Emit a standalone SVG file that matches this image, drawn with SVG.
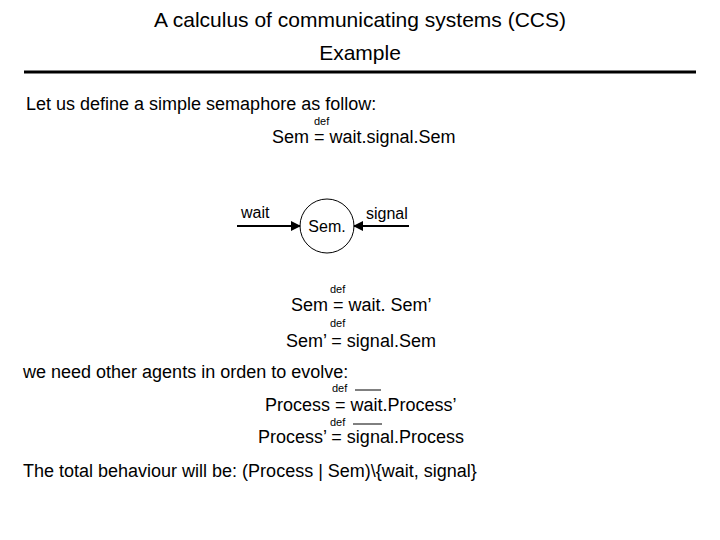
<svg xmlns="http://www.w3.org/2000/svg" width="720" height="540" viewBox="0 0 720 540">
<style>
text{font-family:"Liberation Sans",Arial,sans-serif;fill:#000}
.t{font-size:21px}
.m{font-size:18px}
.d{font-size:11px}
.c{stroke:#000;stroke-width:2;fill:none}
</style>
<defs>
<marker id="a" viewBox="0 0 10 10" refX="9" refY="5" markerWidth="5" markerHeight="5" orient="auto"><path d="M0,0L10,5L0,10z" fill="#000"/></marker>
</defs>
<rect width="720" height="540" fill="#fff"/>
<text class="t" x="360" y="27" text-anchor="middle">A calculus of communicating systems (CCS)</text>
<text class="t" x="360" y="60" text-anchor="middle">Example</text>
<line x1="24" y1="72" x2="696" y2="72" stroke="#000" stroke-width="3"/>
<text class="m" x="26" y="110">Let us define a simple semaphore as follow:</text>
<text class="d" x="314" y="125">def</text>
<text class="m" x="272" y="143">Sem = wait.signal.Sem</text>
<g id="sem"><circle cx="327" cy="226" r="27" fill="none" stroke="#000" stroke-width="1"/><text x="327" y="232" font-size="16" text-anchor="middle">Sem.</text></g>
<g id="connectors">
<line class="c" x1="237" y1="226" x2="300" y2="226" marker-end="url(#a)"/>
<line class="c" x1="409" y1="226" x2="354" y2="226" marker-end="url(#a)"/>
</g>
<text x="241" y="218" font-size="16">wait</text>
<text x="366" y="219" font-size="16">signal</text>
<text class="d" x="330" y="293">def</text>
<text class="m" x="291" y="311">Sem = wait. Sem’</text>
<text class="d" x="330" y="327">def</text>
<text class="m" x="286" y="347">Sem’ = signal.Sem</text>
<text class="m" x="23" y="378">we need other agents in orden to evolve:</text>
<text class="d" x="332" y="392">def</text>
<line x1="355" y1="390" x2="381" y2="390" stroke="#000" stroke-width="1"/>
<text class="m" x="265" y="411">Process = wait.Process’</text>
<text class="d" x="330" y="426">def</text>
<line x1="353" y1="424" x2="382" y2="424" stroke="#000" stroke-width="1"/>
<text class="m" x="258" y="443">Process’ = signal.Process</text>
<text class="m" x="23" y="477">The total behaviour will be: (Process | Sem)\{wait, signal}</text>
</svg>
